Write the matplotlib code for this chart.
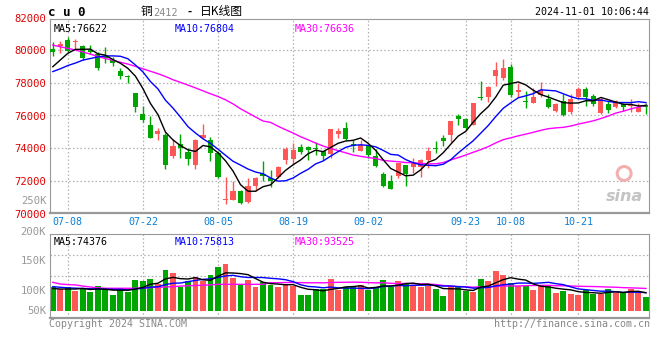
import numpy as np
import pandas as pd
import matplotlib
matplotlib.use('Agg')
import matplotlib.pyplot as plt

# cu0 daily bars, 2024-07-04 .. 2024-11-01 (80 trading days)
opens = [80040, 80270, 80610, 80470, 80240, 79980, 79740, 79610, 79390, 78720,
         78430, 77350, 76090, 75420, 74850, 74810, 73480, 74240, 73730, 72970,
         74640, 74500, 73690, 70810, 70790, 71380, 70670, 71690, 72400, 72160,
         72200, 73280, 73340, 74050, 74050, 73990, 73790, 73620, 74850, 75210,
         74260, 73790, 74190, 73520, 72400, 71990, 72260, 72970, 72810, 72810,
         73280, 73990, 74600, 74770, 75930, 75760, 75420, 77150, 77150, 78430,
         78310, 78980, 77450, 76900, 76780, 77250, 77010, 76270, 76880, 76230,
         77150, 77620, 77190, 76170, 76680, 76480, 76680, 76600, 76230, 76640]
highs = [80470, 80550, 80790, 80670, 80310, 80310, 79860, 80200, 79590, 78880,
         78470, 77390, 76580, 75970, 75210, 74910, 74560, 74870, 73990, 74540,
         75480, 74700, 73790, 72220, 71990, 71440, 72160, 72220, 73220, 72670,
         72870, 74030, 74300, 74240, 74150, 74360, 73830, 75170, 75210, 75620,
         74480, 74500, 74190, 73930, 72560, 72340, 73070, 72970, 73380, 73340,
         74030, 74440, 74770, 75660, 76090, 75860, 76780, 78100, 77820, 79290,
         79450, 79120, 77960, 77490, 77660, 78060, 77310, 76740, 77290, 77290,
         77760, 77760, 77290, 77050, 76880, 76920, 76740, 77010, 76740, 76740]
lows = [79650, 79800, 79860, 80040, 79390, 79740, 78780, 79190, 79040, 78230,
        77960, 76230, 75620, 74600, 74460, 72730, 73380, 73380, 72970, 72730,
        74560, 73180, 72160, 70570, 70790, 70590, 70630, 71340, 71950, 71590,
        72160, 73030, 72930, 73620, 73240, 73580, 73280, 73380, 74640, 74500,
        73730, 73790, 73380, 72810, 71590, 71490, 72160, 71650, 72460, 72240,
        72750, 73690, 74150, 74360, 75380, 75110, 75420, 76940, 76840, 77820,
        78170, 77150, 77150, 76440, 76780, 77150, 76440, 76190, 75950, 76070,
        77090, 76600, 76600, 76070, 76130, 76440, 76270, 76230, 76190, 76070]
closes = [79860, 80350, 79940, 80550, 79530, 79900, 78920, 79530, 79190, 78410,
          78330, 76540, 75720, 74640, 75010, 72970, 74130, 73990, 73340, 74500,
          74810, 73690, 72200, 70870, 71380, 70630, 71690, 72180, 72260, 71950,
          72830, 73930, 73890, 73730, 73850, 73930, 73480, 75170, 75010, 74540,
          74150, 74190, 73540, 72870, 71650, 71490, 73070, 72400, 73070, 73280,
          73830, 73930, 74440, 75660, 75800, 75250, 76780, 77050, 77760, 78780,
          78880, 77250, 77560, 76840, 77150, 77560, 76480, 76700, 75990, 77010,
          77620, 77150, 76680, 77010, 76330, 76880, 76480, 76640, 76540, 76480]
# volume, thousands of lots
volumes = [109, 105, 108, 102, 106, 100, 110, 105, 95, 105,
           100, 120, 119, 122, 113, 137, 133, 108, 119, 125,
           118, 129, 142, 148, 124, 113, 120, 109, 117, 112,
           109, 114, 110, 95, 95, 105, 105, 122, 103, 108,
           108, 112, 103, 108, 120, 108, 119, 116, 112, 109,
           110, 105, 93, 110, 108, 102, 100, 122, 118, 136,
           129, 116, 110, 110, 103, 110, 110, 99, 102, 97,
           95, 103, 97, 97, 105, 99, 98, 105, 99, 92]

# moving-average values at the left edge (window reaches before the chart)
ma5_head = [78980, 79390, 79800, 80040]
ma10_head = [78680, 78850, 79050, 79200, 79380, 79480, 79580, 79640, 79640]
ma30_head = [80300, 80200, 80100, 80000, 79880, 79750, 79600, 79480, 79370, 79250,
             79140, 79000, 78850, 78700, 78550, 78380, 78180, 78020, 77850, 77680,
             77500, 77320, 77150, 76950, 76700, 76400, 76150, 75900, 75650]
vma5_head = [106, 105, 105, 105]
vma10_head = [109, 108, 107, 106.5, 106, 105.5, 105, 105, 104.5]
vma30_head = [116.4, 113.5, 112.5, 112, 110, 108.5, 107, 106.3, 106.3, 106.3,
              106.3, 106.3, 107, 107.5, 108, 108.5, 109, 110, 110.5, 111,
              111.5, 112, 113, 113, 113, 113, 113, 113, 113]

tick_labels = ['07-08', '07-22', '08-05', '08-19', '09-02', '09-23', '10-08', '10-21']
holidays = ['2024-09-16', '2024-09-17', '2024-10-01', '2024-10-02', '2024-10-03',
            '2024-10-04', '2024-10-07']

main_labels = [82000, 80000, 78000, 76000, 74000, 72000, 70000]
vol_labels = [200, 150, 100]

RED = '#ff5656'
GREEN = '#00a600'
GRID = '#b0b0b0'
FRAME = '#999999'


def with_head(series, window, head):
    ma = pd.Series(series, dtype=float).rolling(window).mean().values
    ma[:len(head)] = head
    return ma


days = pd.bdate_range('2024-07-04', '2024-11-01')
days = days[~days.isin(pd.to_datetime(holidays))]
mmdd = list(days.strftime('%m-%d'))
tick_pos = [mmdd.index(t) for t in tick_labels]

o = np.array(opens, float)
h = np.array(highs, float)
l = np.array(lows, float)
c = np.array(closes, float)
v = np.array(volumes, float)
x = np.arange(len(c))
up = c >= o
cols = np.where(up, RED, GREEN)

ma5 = with_head(c, 5, ma5_head)
ma10 = with_head(c, 10, ma10_head)
ma30 = with_head(c, 30, ma30_head)
vma5 = with_head(v, 5, vma5_head)
vma10 = with_head(v, 10, vma10_head)
vma30 = with_head(v, 30, vma30_head)

W, H = 660, 360
fig = plt.figure(figsize=(6.6, 3.6), dpi=100)


def px_axes(left, top, right, bottom):
    return fig.add_axes([left / W, 1 - bottom / H, (right - left) / W, (bottom - top) / H])


def ftext(px, py, s, **kw):
    kw.setdefault('family', 'DejaVu Sans Mono')
    kw.setdefault('fontsize', 7.2)
    kw.setdefault('va', 'center')
    fig.text(px / W, 1 - py / H, s, **kw)


xlim = (-0.31, 79.45)
dotted = (0, (1.2, 1.8))

# ---- price panel
ax = px_axes(50.5, 19, 649.3, 213.3)
ax.set_xlim(*xlim)
ax.set_ylim(70000, 81900)
ax.set_yticks([72000, 74000, 76000, 78000, 80000])
ax.set_xticks(tick_pos)
ax.tick_params(length=0, labelleft=False, labelbottom=False)
ax.grid(True, color=GRID, linestyle=dotted, linewidth=0.9)
ax.set_axisbelow(True)
for sp in ax.spines.values():
    sp.set_color(FRAME)
ax.spines['bottom'].set_linewidth(1.6)

ax.vlines(x, l, h, color=cols, linewidth=1.0, zorder=2)
body_lo = np.minimum(o, c)
body_h = np.maximum(np.abs(c - o), 45)
ax.bar(x, body_h, bottom=body_lo, width=0.68, color=cols, linewidth=0, zorder=3)

ax.plot(x, ma30, color='#ff00ff', linewidth=1.0, zorder=4)
ax.plot(x, ma10, color='#0000ff', linewidth=1.0, zorder=4)
ax.plot(x, ma5, color='black', linewidth=1.0, zorder=4)

for val in main_labels:
    ax.text(-0.0075, val - 80, str(val), transform=ax.get_yaxis_transform(), ha='right',
            va='center', color='#e00000', family='DejaVu Sans Mono', fontsize=7.6,
            clip_on=False)
for pos, lab in zip(tick_pos, tick_labels):
    ax.text(pos, -0.02, lab, transform=ax.get_xaxis_transform(), ha='center', va='top',
            color='#0a7fd6', family='DejaVu Sans Mono', fontsize=7.2, clip_on=False)

ax.text(0.005, 0.975, 'MA5:76622', transform=ax.transAxes, va='top',
        family='DejaVu Sans Mono', fontsize=7.2, color='black')
ax.text(0.207, 0.975, 'MA10:76804', transform=ax.transAxes, va='top',
        family='DejaVu Sans Mono', fontsize=7.2, color='#0000ff')
ax.text(0.408, 0.975, 'MA30:76636', transform=ax.transAxes, va='top',
        family='DejaVu Sans Mono', fontsize=7.2, color='#ff00ff')

# sina watermark
ax.text(0.99, 0.05, 'sina', transform=ax.transAxes, ha='right', va='bottom',
        fontsize=11.5, fontweight='bold', fontstyle='italic', color='#c4c4c4',
        family='DejaVu Sans')
ax.scatter([0.958], [0.205], s=100, transform=ax.transAxes, facecolor='none',
           edgecolor='#f2b0b0', linewidth=2.2, zorder=1)

# ---- volume panel
vx = px_axes(50.5, 234.3, 649.3, 318.3)
vx.set_xlim(*xlim)
vx.set_ylim(55.4, 197.8)
vx.set_yticks([162.2, 126.6])
vx.set_xticks(tick_pos)
vx.tick_params(length=0, labelleft=False, labelbottom=False)
vx.grid(True, color=GRID, linestyle=dotted, linewidth=0.9)
vx.set_axisbelow(True)
for sp in vx.spines.values():
    sp.set_color(FRAME)
vx.spines['bottom'].set_linewidth(1.6)
vbase = 68.3
vx.bar(x, v - vbase, bottom=vbase, width=0.78, color=cols, linewidth=0, zorder=2)
vx.plot(x, vma30, color='#ff00ff', linewidth=1.0, zorder=3)
vx.plot(x, vma10, color='#0000ff', linewidth=1.0, zorder=3)
vx.plot(x, vma5, color='black', linewidth=1.0, zorder=3)

for val in vol_labels:
    vx.text(-0.0075, val + 2, '%dK' % val, transform=vx.get_yaxis_transform(), ha='right',
            va='center', color='#999999', family='DejaVu Sans Mono', fontsize=7.6,
            clip_on=False)
vx.text(-0.0075, vbase, '50K', transform=vx.get_yaxis_transform(), ha='right',
        va='center', color='#999999', family='DejaVu Sans Mono', fontsize=7.6,
        clip_on=False)
vx.text(0.005, 0.97, 'MA5:74376', transform=vx.transAxes, va='top',
        family='DejaVu Sans Mono', fontsize=7.2, color='black')
vx.text(0.207, 0.97, 'MA10:75813', transform=vx.transAxes, va='top',
        family='DejaVu Sans Mono', fontsize=7.2, color='#0000ff')
vx.text(0.408, 0.97, 'MA30:93525', transform=vx.transAxes, va='top',
        family='DejaVu Sans Mono', fontsize=7.2, color='#ff00ff')

# ---- header / footer text
ftext(48, 12, 'c u 0', fontweight='bold', fontsize=9, color='black')
ftext(141, 12, '铜', family=['Noto Sans CJK SC', 'DejaVu Sans'], fontsize=8.5)
ftext(153, 12.5, '2412', color='#888888', fontsize=7.4)
ftext(186, 12, '-', fontsize=7.4, fontweight='bold')
ftext(200, 12, '日K线图', family=['Noto Sans CJK SC', 'DejaVu Sans'], fontsize=8.5)
ftext(649, 12, '2024-11-01 10:06:44', ha='right', color='black')
ftext(47, 201, '250K', ha='right', color='#999999', fontsize=7.6)
ftext(49, 324, 'Copyright 2024 SINA.COM', color='#888888')
ftext(650, 324, 'http://finance.sina.com.cn', ha='right', color='#888888')

fig.savefig('out.png', dpi=100)
